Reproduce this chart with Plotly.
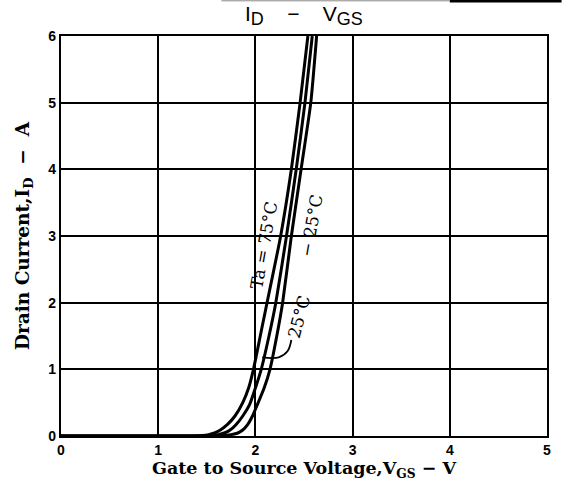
import plotly.graph_objects as go

# Data (V_GS in volts, I_D in amperes)
v_75 = [0.0, 1.0, 1.35, 1.45, 1.52, 1.58, 1.64, 1.71, 1.79, 1.87, 1.93, 1.98, 2.05, 2.12, 2.26, 2.37, 2.46, 2.54]
i_75 = [0.0, 0.0, 0.0, 0.006, 0.02, 0.045, 0.09, 0.17, 0.30, 0.50, 0.72, 1.0, 1.5, 2.0, 3.0, 4.0, 5.0, 6.0]

v_25 = [0.0, 1.0, 1.45, 1.55, 1.62, 1.68, 1.74, 1.80, 1.87, 1.94, 2.00, 2.06, 2.14, 2.21, 2.32, 2.42, 2.51, 2.585]
i_25 = [0.0, 0.0, 0.0, 0.006, 0.02, 0.045, 0.09, 0.17, 0.30, 0.47, 0.72, 1.0, 1.5, 2.0, 3.0, 4.0, 5.0, 6.0]

v_m25 = [0.0, 1.0, 1.55, 1.66, 1.75, 1.82, 1.87, 1.92, 1.97, 2.02, 2.09, 2.15, 2.22, 2.28, 2.37, 2.47, 2.57, 2.63]
i_m25 = [0.0, 0.0, 0.0, 0.005, 0.02, 0.045, 0.09, 0.17, 0.30, 0.47, 0.72, 1.0, 1.5, 2.0, 3.0, 4.0, 5.0, 6.0]

leader_v = [2.37, 2.33, 2.24, 2.07]
leader_i = [1.44, 1.27, 1.18, 1.18]

x_ticks = [0, 1, 2, 3, 4, 5]
y_ticks = [0, 1, 2, 3, 4, 5, 6]

fig = go.Figure()
for vv, ii in [(v_75, i_75), (v_25, i_25), (v_m25, i_m25)]:
    fig.add_trace(go.Scatter(x=vv, y=ii, mode="lines",
                             line=dict(color="black", width=3, shape="spline", smoothing=0.5),
                             showlegend=False, hoverinfo="skip"))
fig.add_trace(go.Scatter(x=leader_v, y=leader_i, mode="lines",
                         line=dict(color="black", width=1.8, shape="spline"),
                         showlegend=False, hoverinfo="skip"))

serif = "DejaVu Serif"
sp = "\u00a0"
fig.update_layout(
    width=562, height=488,
    margin=dict(l=61, r=11, t=36, b=52),
    paper_bgcolor="white", plot_bgcolor="white",
    font=dict(family="Liberation Sans", color="black"),
    xaxis=dict(range=[0, 5], tickvals=x_ticks, showgrid=True, gridcolor="black", gridwidth=1.6,
               zeroline=False, showline=True, linecolor="black", linewidth=2.2, mirror=True,
               ticks="", tickfont=dict(size=14, family="Liberation Sans", weight="bold"),
               title=dict(text="Gate to Source Voltage,V<sub>GS</sub>" + sp + "−" + sp + "V",
                          font=dict(family=serif, size=17.5, weight="bold"), standoff=2)),
    yaxis=dict(range=[0, 6], tickvals=y_ticks, showgrid=True, gridcolor="black", gridwidth=1.6,
               zeroline=False, showline=True, linecolor="black", linewidth=2.2, mirror=True,
               ticks="", tickfont=dict(size=14, family="Liberation Sans", weight="bold"),
               title=dict(text="Drain Current,I<sub>D</sub>" + sp * 2 + "−" + sp * 2 + "A",
                          font=dict(family=serif, size=18.5, weight="bold"), standoff=14)),
)

sub = "<sub><span style='font-size:18px'>{}</span></sub>"
fig.add_annotation(text="I" + sub.format("D") + sp * 4 + "−" + sp * 4 + "V" + sub.format("GS"),
                   xref="paper", yref="paper",
                   x=0.5, y=1.052, yanchor="middle", xanchor="center", showarrow=False,
                   font=dict(family="Liberation Sans", size=21))
fig.add_annotation(text="Ta = 75°C", x=2.09, y=2.86, textangle=-80, showarrow=False,
                   font=dict(family=serif, size=17))
fig.add_annotation(text="− 25°C", x=2.58, y=3.16, textangle=-80, showarrow=False,
                   font=dict(family=serif, size=17))
fig.add_annotation(text="25°C", x=2.45, y=1.78, textangle=-75, showarrow=False,
                   font=dict(family=serif, size=17))

# scan border remnants at the very top
fig.add_shape(type="line", xref="paper", yref="paper", x0=0.33, x1=0.80, y0=1.088, y1=1.088,
              line=dict(color="#888888", width=1))
fig.add_shape(type="line", xref="paper", yref="paper", x0=0.80, x1=1.03, y0=1.087, y1=1.087,
              line=dict(color="black", width=2.5))

fig.write_html("out.html", config={"displayModeBar": False},
               post_script="document.body.style.margin='0';")
